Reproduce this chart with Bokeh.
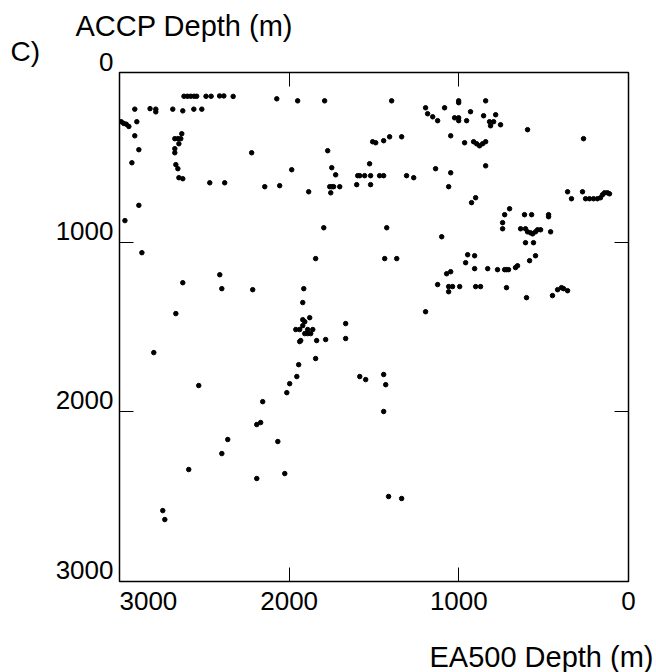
from bokeh.plotting import figure
from bokeh.models import Range1d, LinearAxis, FixedTicker, Label
from bokeh.embed import file_html
from bokeh.resources import INLINE

# ---- data ----
ea500_depth = [
    2620, 2600, 2580, 2560, 2545, 2490, 2460, 2410, 2385, 2330,
    2910, 2820, 2786, 2786, 2686, 2627, 2562, 2515,
    2990, 2975, 2960, 2945, 2898, 2910, 2886, 2927, 2886, 2968,
    2633, 2674, 2656, 2639, 2650, 2674, 2674, 2668, 2656, 2650, 2627,
    2468, 2380, 2221, 2073, 1950, 1791,
    1773, 1749, 1726, 1761, 1749, 1738, 1702, 1755,
    1985, 2144, 2056, 1885,
    1508, 1490, 1526, 1596, 1584, 1555, 1520, 1467, 1443, 1602, 1520,
    1396, 1196, 1084, 1001, 1001, 842, 1184, 1154, 1125, 1025, 1001, 1001, 954,
    931, 854, 783, 819, 795, 813, 754, 595, 265, 1443, 1408, 1337, 1048, 966,
    913, 895, 878, 860, 842, 842, 1308, 1266, 1137, 1048, 1060, 925, 901,
    730, 701, 613, 571, 471, 471, 359, 336, 271, 253, 230, 206, 183, 165,
    153, 141, 124, 112,
    1796, 2868, 1844, 2409, 2627, 2397, 2215, 1914, 1920, 2668, 1879, 1920,
    1908, 1920, 1961, 1938, 1891, 1861, 1908, 1891, 1873, 1932, 1938, 1838,
    1785, 1667, 1667, 1844, 1944, 1955, 1997, 2798, 2533, 1584, 1549,
    1425, 1101, 742, 742, 636, 607, 595, 577, 565, 548, 536, 518, 459, 607,
    560, 1437, 1366, 948, 907, 960, 548, 583, 907, 830, 772, 730, 719, 707,
    666, 654, 1048, 1072, 1125, 1060, 1037, 1060, 995, 901, 872, 719, 601,
    448, 418, 395, 383, 359, 1196, 1443, 1431,
    2014, 2156, 2168, 2191, 2362, 2067, 2397, 2592, 2191, 2026, 2745, 2733,
    1443, 1414, 1337,
]
accp_depth = [
    140, 140, 140, 140, 140, 140, 140, 138, 138, 141,
    216, 213, 216, 232, 216, 226, 216, 216,
    290, 300, 305, 318, 290, 373, 455, 532, 783, 873,
    361, 390, 390, 390, 420, 449, 473, 543, 567, 620, 626,
    650, 650, 473, 155, 167, 167,
    461, 561, 603, 673, 673, 673, 673, 709,
    573, 673, 667, 703,
    408, 414, 538, 608, 608, 608, 608, 608, 608, 661, 661,
    167, 208, 208, 167, 178, 167, 243, 261, 284, 267, 267, 284, 284,
    231, 255, 249, 290, 290, 314, 308, 337, 390, 402, 379, 379, 373, 414,
    408, 420, 432, 420, 408, 550, 608, 620, 567, 591, 673, 767, 738,
    838, 803, 838, 838, 838, 850, 703, 744, 703, 744, 744, 744, 744, 738,
    720, 709, 709, 715,
    915, 1062, 1097, 1192, 1239, 1274, 1280, 1274, 1356, 1421, 1445, 1457,
    1469, 1492, 1515, 1515, 1515, 1515, 1539, 1539, 1539, 1580, 1586, 1580,
    1574, 1480, 1568, 1686, 1722, 1792, 1834, 1651, 1845, 1792, 1810,
    915, 968, 885, 921, 921, 921, 939, 945, 951, 939, 927, 927, 939, 1003,
    1003, 1097, 1097, 1074, 1080, 1121, 1080, 1109, 1156, 1156, 1162, 1162, 1162, 1162,
    1150, 1139, 1174, 1186, 1250, 1262, 1262, 1292, 1262, 1262, 1262, 1268, 1327,
    1315, 1280, 1268, 1274, 1286, 1410, 1780, 1840,
    1887, 1940, 2063, 2075, 2163, 2175, 2246, 2340, 2393, 2364, 2582, 2635,
    1998, 2499, 2511,
]
x_tick_values = [3000, 2000, 1000, 0]
x_tick_labels = ["3000", "2000", "1000", "0"]
y_tick_values = [0, 1000, 2000, 3000]
y_tick_labels = ["0", "1000", "2000", "3000"]
inner_ticks = [1000, 2000]
panel_letter = "C)"
x_title = "EA500 Depth (m)"
y_title = "ACCP Depth (m)"

FONT = "Liberation Sans"
Y_MAX = 3000
X_MAX = 3000
LABEL_LIFT = 68  # y tick labels sit ~11.5 px above their tick (in data units)

p = figure(
    width=656, height=672,
    x_range=Range1d(X_MAX, 0), y_range=Range1d(Y_MAX, 0),
    output_backend="svg", toolbar_location=None,
    x_axis_location=None, y_axis_location=None,
    min_border_left=119, min_border_right=28,
    min_border_top=72, min_border_bottom=91,
    background_fill_color="white", border_fill_color="white",
)
p.grid.visible = False
p.outline_line_color = "black"
p.outline_line_width = 1.5
p.outline_line_alpha = 1.0
# a copy of the y scale lifted a little, used only to place the tick labels
p.extra_y_ranges = {"ylab": Range1d(Y_MAX + LABEL_LIFT, LABEL_LIFT)}


def make_axis(ticks, labels=None, **kw):
    ax = LinearAxis(ticker=FixedTicker(ticks=ticks), **kw)
    ax.axis_line_color = None
    ax.major_tick_in = 14
    ax.major_tick_out = 0
    ax.major_tick_line_color = "black"
    ax.major_tick_line_width = 1
    ax.minor_tick_line_color = None
    ax.major_label_text_font = FONT
    ax.major_label_text_font_size = "26px"
    ax.major_label_text_color = "black"
    if labels is not None:
        ax.major_label_overrides = labels
    return ax


# left: tick marks only
left_ax = make_axis(inner_ticks, {v: "" for v in inner_ticks})
left_ax.major_label_standoff = 0
p.add_layout(left_ax, "left")

# left: tick labels (1000, 2000, 3000) placed just above each tick
ylab_vals = [v for v in y_tick_values if v > 0]
left_lab = make_axis(ylab_vals,
                     {v: t for v, t in zip(y_tick_values, y_tick_labels) if v > 0},
                     y_range_name="ylab")
left_lab.major_tick_line_color = None
left_lab.major_tick_in = 0
left_lab.major_label_standoff = 6
p.add_layout(left_lab, "left")

# bottom: ticks + labels; leftmost label pushed right so it starts at the frame edge
pad = "\u00a0" * 8
bottom_ax = make_axis(x_tick_values,
                      {v: (pad + t if v == X_MAX else t) for v, t in zip(x_tick_values, x_tick_labels)})
bottom_ax.major_label_standoff = 4
p.add_layout(bottom_ax, "below")

top_ax = make_axis(inner_ticks, {v: "" for v in inner_ticks})
top_ax.major_label_standoff = 0
p.add_layout(top_ax, "above")

right_ax = make_axis(inner_ticks, {v: "" for v in inner_ticks})
right_ax.major_label_standoff = 0
p.add_layout(right_ax, "right")

p.scatter(ea500_depth, accp_depth, size=4.5, color="black", line_color="black")


def text_label(side, x, y, text, dx, dy, align, size):
    p.add_layout(Label(x=x, y=y, text=text, x_offset=dx, y_offset=dy,
                       text_align=align, text_baseline="middle",
                       text_font=FONT, text_font_size=size, text_color="black"), side)


# the "0" y tick label sits above the frame's top edge
text_label("left", X_MAX, y_tick_values[0], y_tick_labels[0], -6, 10.5, "right", "26px")

text_label("above", X_MAX, 0, y_title, -44, 46.5, "left", "29px")
text_label("above", X_MAX, 0, panel_letter, -109, 21.5, "left", "28px")
text_label("below", 0, Y_MAX, x_title, 25, -75.5, "right", "29px")

open("out.html", "w").write(file_html(p, INLINE))
